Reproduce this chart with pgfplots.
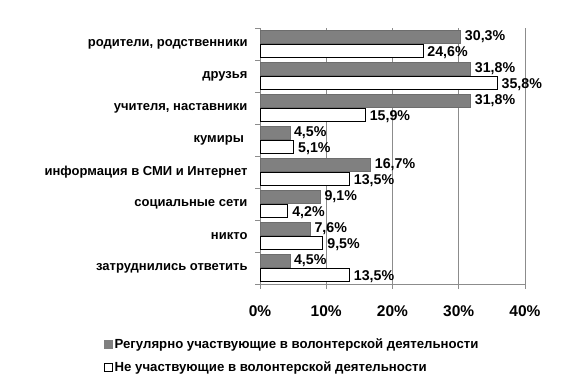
\documentclass[border=0pt]{standalone}
\usepackage{pgfplots}
\pgfplotsset{compat=1.18}
\usepackage{fontspec}
\setmainfont{Liberation Sans}
\definecolor{barg}{HTML}{808080}
\definecolor{gridg}{HTML}{8C8C8C}
\begin{document}
\begin{tikzpicture}
\useasboundingbox (0,0) rectangle (570pt,379pt);
\begin{axis}[
  at={(260pt,95pt)}, anchor=south west,
  scale only axis, width=265pt, height=256pt,
  xbar, bar width=13.5pt,
  xmin=0, xmax=40, ymin=-0.5, ymax=7.5,
  axis lines=left, axis line style={-, draw=gridg, line width=0.8pt},
  xtick={0,10,20,30,40},
  xticklabel={\pgfmathprintnumber{\tick}\%},
  /pgf/number format/assume math mode=true,
  xticklabel style={font=\bfseries\fontsize{15.5}{17}\selectfont, yshift=-13pt},
  xmajorgrids, grid style={draw=gridg, line width=0.8pt},
  ytick={0,...,7},
  yticklabels={затруднились ответить, никто, социальные сети, информация в СМИ и Интернет, {кумиры\ \ }, {учителя, наставники}, друзья, {родители, родственники}},
  yticklabel style={font=\bfseries\fontsize{13}{15}\selectfont, xshift=-4pt},
  minor ytick={-0.5,0.5,...,7.5},
  tick align=outside,
  major tick length=5pt,
  major y tick style={draw=none},
  minor tick length=5pt,
  tick style={draw=gridg, line width=0.8pt},
  point meta=x,
  nodes near coords={\pgfmathprintnumber[fixed,precision=1,fixed zerofill,use comma]{\pgfplotspointmeta}\%},
  every node near coord/.append style={font=\bfseries\fontsize{14.2}{16}\selectfont, anchor=west, inner sep=0pt, xshift=4pt},
  legend style={at={(rel axis cs:-0.59,-0.205)}, anchor=north west, draw=none, fill=none, inner sep=0pt, row sep=7.5pt,
    font=\bfseries\fontsize{13.2}{15}\selectfont},
  legend cell align=left,
  clip=false,
]
\addplot[fill=barg, draw=barg!85!black, line width=0.5pt, bar shift=7pt,
  every node near coord/.append style={yshift=0pt},
  legend image code/.code={\draw[fill=barg, draw=barg, line width=0.5pt] (0pt,-4pt) rectangle (8pt,4pt);}]
  coordinates {(4.5,0) (7.6,1) (9.1,2) (16.7,3) (4.5,4) (31.8,5) (31.8,6) (30.3,7)};
\addlegendentry{Регулярно участвующие в волонтерской деятельности}
\addplot[fill=white, draw=black, line width=0.9pt, bar shift=-7pt,
  every node near coord/.append style={yshift=-1.5pt},
  legend image code/.code={\draw[fill=white, draw=black, line width=0.8pt] (0pt,-4pt) rectangle (8pt,4pt);}]
  coordinates {(13.5,0) (9.5,1) (4.2,2) (13.5,3) (5.1,4) (15.9,5) (35.8,6) (24.6,7)};
\addlegendentry{Не участвующие в волонтерской деятельности}
\end{axis}
\end{tikzpicture}
\end{document}
